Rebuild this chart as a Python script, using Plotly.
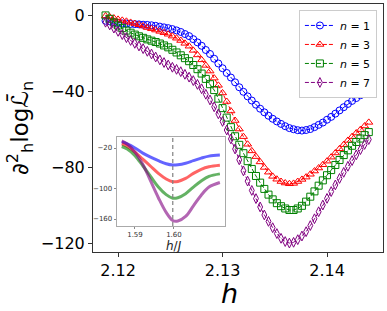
import plotly.graph_objects as go

# ---- main panel data ----
h = [2.1188, 2.1192, 2.1196, 2.1200, 2.1204, 2.1208, 2.1212, 2.1216, 2.1220, 2.1224,
     2.1228, 2.1232, 2.1236, 2.1240, 2.1244, 2.1248, 2.1252, 2.1256, 2.1260, 2.1264,
     2.1268, 2.1272, 2.1276, 2.1280, 2.1284, 2.1288, 2.1292, 2.1296, 2.1300, 2.1304,
     2.1308, 2.1312, 2.1316, 2.1320, 2.1324, 2.1328, 2.1332, 2.1336, 2.1340, 2.1344,
     2.1348, 2.1352, 2.1356, 2.1360, 2.1364, 2.1368, 2.1372, 2.1376, 2.1380, 2.1384,
     2.1388, 2.1392, 2.1396, 2.1400, 2.1404, 2.1408, 2.1412, 2.1416, 2.1420, 2.1424,
     2.1428, 2.1432, 2.1436, 2.1440]

n1 = [-3.0, -3.3, -3.8, -4.2, -4.4, -4.5, -4.7, -4.8, -4.9, -5.1,
      -5.2, -5.4, -5.7, -6.1, -6.5, -6.9, -7.4, -8.1, -8.9, -10.0,
      -11.1, -12.7, -14.4, -16.2, -18.4, -20.5, -23.0, -25.5, -28.0, -30.5,
      -32.9, -35.4, -38.0, -40.4, -42.8, -45.0, -47.2, -49.3, -51.2, -53.0,
      -54.6, -56.0, -57.3, -58.5, -59.5, -60.1, -60.6, -60.8, -60.5, -60.0,
      -59.0, -57.8, -56.6, -55.1, -53.6, -51.9, -50.2, -48.5, -46.8, -45.2,
      -43.7, -42.2, -40.8, -39.4]

n3 = [-0.5, -1.0, -1.6, -2.3, -2.8, -3.3, -3.9, -4.5, -5.1, -5.8,
      -6.6, -7.2, -7.9, -8.6, -9.3, -10.1, -11.1, -12.2, -13.4, -14.9,
      -16.4, -18.6, -21.0, -23.6, -26.5, -29.5, -33.2, -37.0, -41.0, -45.5,
      -50.5, -55.5, -60.0, -64.0, -68.0, -71.5, -74.5, -77.3, -80.2, -82.7,
      -84.9, -86.4, -87.6, -88.4, -88.8, -88.6, -87.6, -86.5, -85.3, -83.8,
      -82.1, -80.5, -78.8, -76.9, -74.8, -72.6, -70.4, -68.2, -66.0, -64.0,
      -62.1, -60.3, -58.4, -56.5]

n5 = [-0.2, -2.0, -3.9, -5.5, -6.9, -8.2, -9.3, -10.3, -11.2, -12.0,
      -12.8, -13.5, -14.2, -15.0, -16.0, -17.0, -18.3, -19.7, -21.2, -22.7,
      -24.3, -26.3, -28.5, -30.8, -33.6, -36.4, -39.5, -44.0, -49.0, -54.0,
      -59.0, -63.8, -68.3, -72.7, -76.9, -81.0, -84.7, -88.2, -91.5, -94.5,
      -97.0, -99.0, -100.6, -101.8, -102.6, -102.6, -101.8, -100.4, -98.2, -95.6,
      -92.8, -89.8, -87.0, -84.3, -81.6, -78.9, -76.3, -73.7, -71.2, -68.8,
      -66.8, -65.0, -63.2, -61.6]

n7 = [-3.8, -5.2, -6.9, -8.6, -10.3, -11.9, -13.4, -14.9, -16.3, -17.7,
      -19.1, -20.5, -22.1, -23.6, -25.0, -26.3, -27.5, -28.6, -29.8, -31.2,
      -32.7, -34.5, -36.5, -38.8, -41.7, -44.7, -48.3, -52.0, -56.0, -60.5,
      -65.2, -70.5, -76.2, -82.0, -87.4, -92.3, -96.6, -101.0, -105.2, -108.6,
      -111.9, -115.0, -117.5, -119.2, -120.0, -119.6, -118.2, -116.3, -114.0, -110.8,
      -107.2, -103.5, -100.0, -96.5, -92.9, -89.4, -86.0, -82.8, -79.6, -76.6,
      -73.6, -70.8, -68.1, -65.5]

labels = ["<i>n</i> = 1", "<i>n</i> = 3", "<i>n</i> = 5", "<i>n</i> = 7"]
colors = ["blue", "red", "green", "purple"]
symbols = ["circle-open", "triangle-up-open", "square-open", "diamond-tall-open"]

# ---- inset data ----
hJ = [1.5866, 1.5880, 1.5900, 1.5920, 1.5940, 1.5960, 1.5980, 1.5997,
      1.6010, 1.6030, 1.6050, 1.6070, 1.6090, 1.6118]
in1 = [-8, -12, -20, -30, -38, -45, -51, -53.5, -53, -50, -45, -40, -36, -34]
in3 = [-12, -17, -28, -42, -56, -70, -81, -86.5, -86, -80, -70, -62, -57, -54]
in5 = [-17, -22, -35, -55, -76, -97, -112, -119, -118, -110, -97, -85, -76, -71]
in7 = [-6, -12, -28, -52, -85, -118, -147, -163, -164, -155, -134, -113, -97, -88]
h_crit = 1.5997

fig = go.Figure()
for ys, lab, col, sym in zip([n1, n3, n5, n7], labels, colors, symbols):
    fig.add_trace(go.Scatter(
        x=h, y=ys, name=lab, mode="lines+markers",
        line=dict(color=col, width=1, dash="4px,2px"),
        marker=dict(symbol=sym, size=7, color=col, line=dict(color=col, width=1)),
        xaxis="x", yaxis="y"))

for ys, col in zip([in1, in3, in5, in7], colors):
    fig.add_trace(go.Scatter(
        x=hJ, y=ys, mode="lines", showlegend=False,
        line=dict(color=col, width=3, shape="spline"),
        opacity=0.6, xaxis="x2", yaxis="y2"))

fig.add_shape(type="line", xref="x2", yref="y2 domain", x0=h_crit, x1=h_crit,
              y0=0, y1=1, line=dict(color="gray", width=1.2, dash="4px,3px"))

font_main = "DejaVu Sans"
fig.update_layout(
    width=387, height=311,
    margin=dict(l=93, r=4, t=4, b=59),
    paper_bgcolor="white", plot_bgcolor="white",
    font=dict(family=font_main, color="black"),
    showlegend=True,
    legend=dict(x=0.979, y=0.976, xanchor="right", yanchor="top",
                bgcolor="white", bordercolor="#cccccc", borderwidth=1,
                font=dict(size=11, family=font_main), tracegroupgap=0),
    xaxis=dict(range=[2.1176, 2.14536], tickvals=[2.12, 2.13, 2.14],
               ticktext=["2.12", "2.13", "2.14"],
               showgrid=False, zeroline=False, showline=True, linecolor="#333",
               linewidth=1, mirror=True, ticks="outside", ticklen=4, tickcolor="#333",
               tickfont=dict(size=16)),
    yaxis=dict(range=[-124.7, 5.8], tickvals=[0, -40, -80, -120],
               showgrid=False, zeroline=False, showline=True, linecolor="#333",
               linewidth=1, mirror=True, ticks="outside", ticklen=4, tickcolor="#333",
               tickfont=dict(size=16)),
    xaxis2=dict(domain=[0.0817, 0.455], anchor="y2", range=[1.5853, 1.6131],
                tickvals=[1.59, 1.60], ticktext=["1.59", "1.60"],
                showgrid=False, zeroline=False, showline=True, linecolor="#aaaaaa",
                linewidth=1, mirror=True, ticks="outside", ticklen=2, tickcolor="#888",
                tickfont=dict(size=7, color="#333")),
    yaxis2=dict(domain=[0.1048, 0.4637], anchor="x2", range=[-173.8, 1.7],
                tickvals=[-20, -100, -160],
                showgrid=False, zeroline=False, showline=True, linecolor="#aaaaaa",
                linewidth=1, mirror=True, ticks="outside", ticklen=2, tickcolor="#888",
                tickfont=dict(size=7, color="#333")),
)

fig.add_annotation(text="∂<sup>2</sup><sub>h</sub>log<i>ℒ̄</i><sub>n</sub>",
                   xref="paper", yref="paper", x=-0.255, y=0.5,
                   xanchor="center", yanchor="middle", textangle=-90,
                   showarrow=False, font=dict(size=23, family=font_main))
fig.add_annotation(text="<i>h</i>", xref="paper", yref="paper",
                   x=(229 - 93) / 290, y=-(293 - 252) / 248,
                   xanchor="center", yanchor="middle", showarrow=False,
                   font=dict(size=27, family=font_main))
fig.add_annotation(text="<i>h</i>/<i>J</i>", xref="paper", yref="paper",
                   x=(174 - 93) / 290, y=-(246 - 252) / 248,
                   xanchor="center", yanchor="middle", showarrow=False,
                   font=dict(size=12, family=font_main, color="#222"))

fig.write_html("out.html", config={"displayModeBar": False},
               post_script="document.body.style.margin='0';document.body.style.padding='0';")
